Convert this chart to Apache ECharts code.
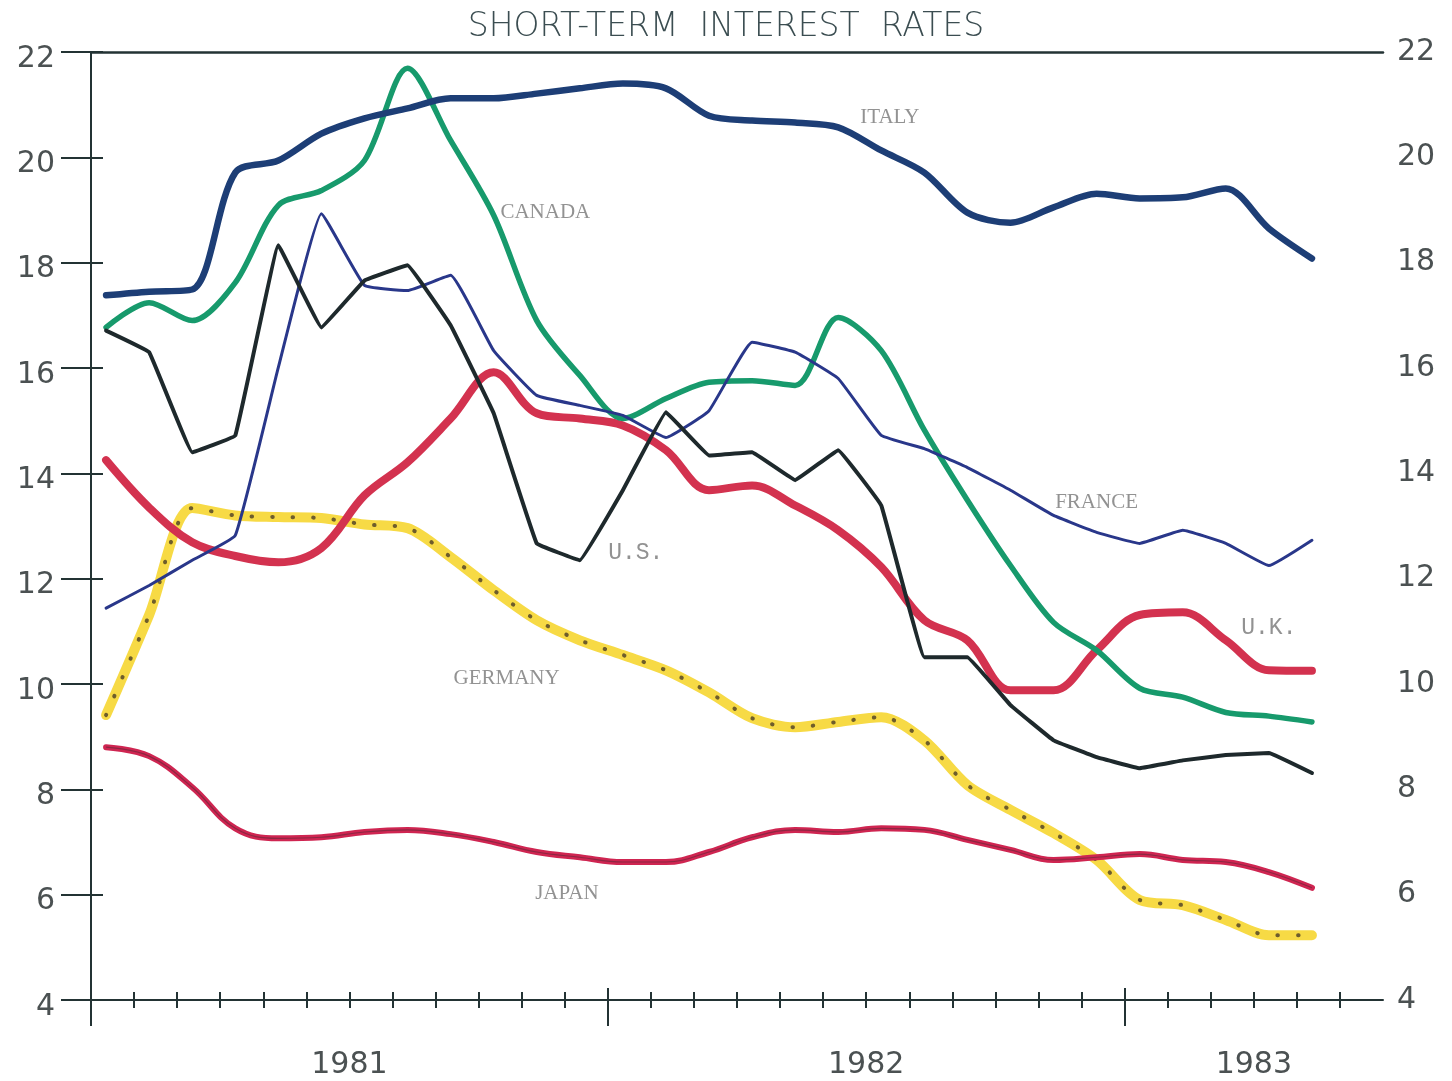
<!DOCTYPE html>
<html>
<head>
<meta charset="utf-8">
<script src="https://cdn.jsdelivr.net/npm/echarts@6/dist/echarts.min.js"></script>
<style>
html,body{margin:0;padding:0;background:#fff;}
#chart{width:1452px;height:1081px;}
</style>
</head>
<body>
<div id="chart"></div>
<script>
// Months since 1 Jan 1981; monthly observations (plotted ~ one third into each month)
const months = [0.35,1.35,2.35,3.35,4.35,5.35,6.35,7.35,8.35,9.35,10.35,11.35,12.35,13.35,14.35,15.35,16.35,17.35,18.35,19.35,20.35,21.35,22.35,23.35,24.35,25.35,26.35,27.35,28.35];

const italy   = [17.38,17.45,17.49,19.71,19.94,20.45,20.74,20.93,21.12,21.12,21.21,21.31,21.40,21.31,20.79,20.70,20.66,20.57,20.13,19.71,18.95,18.76,19.05,19.31,19.22,19.24,19.41,18.65,18.08];
const canada  = [16.77,17.24,16.90,17.62,19.09,19.37,19.94,21.69,20.32,18.90,16.90,15.86,15.04,15.42,15.73,15.76,15.67,16.96,16.33,14.82,13.49,12.25,11.17,10.64,9.92,9.75,9.46,9.39,9.28];
const france  = [11.44,11.87,12.35,12.82,16.01,18.93,17.57,17.47,17.76,16.33,15.48,15.29,15.10,14.68,15.19,16.49,16.30,15.80,14.72,14.47,14.11,13.68,13.20,12.88,12.67,12.92,12.67,12.25,12.73];
const us      = [16.71,16.30,14.40,14.72,18.33,16.77,17.66,17.95,16.81,15.14,12.67,12.35,13.68,15.16,14.34,14.40,13.87,14.44,13.39,10.51,10.51,9.60,8.93,8.61,8.40,8.55,8.65,8.69,8.31];
const uk      = [14.25,13.35,12.69,12.43,12.31,12.58,13.58,14.21,15.04,15.92,15.14,15.04,14.91,14.44,13.68,13.77,13.39,12.92,12.22,11.21,10.83,9.88,9.88,10.64,11.31,11.36,10.83,10.26,10.25];
const germany = [9.41,11.31,13.34,13.20,13.17,13.15,13.03,12.96,12.41,11.78,11.21,10.83,10.55,10.26,9.84,9.35,9.18,9.28,9.37,8.93,8.08,7.61,7.17,6.66,5.90,5.80,5.52,5.23,5.23];
const japan   = [8.80,8.63,8.04,7.26,7.07,7.09,7.19,7.23,7.15,7.00,6.81,6.71,6.62,6.62,6.81,7.09,7.23,7.19,7.26,7.23,7.04,6.85,6.66,6.71,6.77,6.66,6.62,6.43,6.13];

// Series labels (placed in data coordinates: month, rate)
const labelNames  = ['ITALY','CANADA','FRANCE','U.S.','U.K.','GERMANY','JAPAN'];
const labelMonths = [18.55,10.55,23.35,12.65,27.35,9.65,11.05];
const labelRates  = [20.76,18.95,13.45,12.48,11.07,10.10,6.03];

// Axis ticks and labels
const yearStarts      = [0,12,24];
const yearLabels      = ['1981','1982','1983'];
const yearLabelMonths = [6,18,27];
const monthTicks = [];
for (let m = 1; m < 30; m++) monthTicks.push(m);

const AX = '#233334';
const TICKFONT = {fontFamily:'DejaVu Sans', fontSize:30, color:'#4b5152'};

function pairs(vals){ return vals.map((v,i)=>[months[i], v]); }

const labelStyles = {
  'U.S.': {fontFamily:'Liberation Mono', fontSize:23},
  'U.K.': {fontFamily:'Liberation Mono', fontSize:23}
};

const chart = echarts.init(document.getElementById('chart'), null, {renderer:'canvas'});

const xBase = {type:'value', min:0, max:30, gridIndex:0, position:'bottom',
  splitLine:{show:false}, axisLabel:{show:false}, axisLine:{show:false}};

chart.setOption({
  backgroundColor:'#ffffff',
  animation:false,
  title:{
    text:'SHORT-TERM  INTEREST  RATES',
    left:'center', top:6,
    textStyle:{fontFamily:'DejaVu Sans', fontWeight:200, fontSize:33, color:'#3b4d51'}
  },
  grid:{left:91, right:69, top:52, bottom:81},
  xAxis:[
    Object.assign({}, xBase, {
      axisLine:{show:true, lineStyle:{color:AX, width:2}},
      axisTick:{show:true, inside:true, length:8, customValues:monthTicks, lineStyle:{color:AX, width:2}}
    }),
    Object.assign({}, xBase, {
      axisTick:{show:true, inside:false, length:8, customValues:monthTicks, lineStyle:{color:AX, width:2}}
    }),
    Object.assign({}, xBase, {
      axisTick:{show:true, inside:true, length:12, customValues:yearStarts, lineStyle:{color:AX, width:2}}
    }),
    Object.assign({}, xBase, {
      axisTick:{show:true, inside:false, length:26, customValues:yearStarts, lineStyle:{color:AX, width:2}},
      axisLabel:Object.assign({show:true, margin:50, customValues:yearLabelMonths,
        formatter:function(v){ const i = yearLabelMonths.indexOf(v); return i>=0 ? yearLabels[i] : ''; }}, TICKFONT)
    }),
    Object.assign({}, xBase, {
      position:'top',
      axisLine:{show:true, lineStyle:{color:AX, width:2.5}},
      axisTick:{show:false}
    })
  ],
  yAxis:[
    {type:'value', min:4, max:22, interval:2, position:'left',
     splitLine:{show:false},
     axisLine:{show:true, lineStyle:{color:AX, width:2}},
     axisTick:{show:true, inside:false, length:30, lineStyle:{color:AX, width:2}},
     axisLabel:Object.assign({margin:36, verticalAlign:'top', lineHeight:14}, TICKFONT)},
    {type:'value', min:4, max:22, interval:2, position:'left',
     splitLine:{show:false}, axisLine:{show:false}, axisLabel:{show:false},
     axisTick:{show:true, inside:true, length:12, lineStyle:{color:AX, width:2}}},
    {type:'value', min:4, max:22, interval:2, position:'right',
     splitLine:{show:false},
     axisLine:{show:true, lineStyle:{color:AX, width:2}},
     axisTick:{show:true, inside:true, length:28, lineStyle:{color:AX, width:2}},
     axisLabel:Object.assign({margin:14}, TICKFONT)},
    {type:'value', min:4, max:22, interval:2, position:'right',
     splitLine:{show:false}, axisLine:{show:false}, axisLabel:{show:false},
     axisTick:{show:true, inside:false, length:6, lineStyle:{color:AX, width:2}}}
  ],
  series:[
    {name:'Germany', type:'line', data:pairs(germany), smooth:0.3, symbol:'none',
     lineStyle:{color:'#f7da45', width:10, cap:'round', join:'round'}},
    {name:'Germany dots', type:'line', data:pairs(germany), smooth:0.3, symbol:'none',
     lineStyle:{color:'#6e5d2b', width:4, type:[0.5,20], cap:'round'}},
    {name:'Japan', type:'line', data:pairs(japan), smooth:0.4, symbol:'none',
     lineStyle:{color:'#cf2551', width:6, cap:'round', join:'round'}},
    {name:'Japan core', type:'line', data:pairs(japan), smooth:0.4, symbol:'none',
     lineStyle:{color:'#3a2a30', width:1.2, opacity:0.45}},
    {name:'U.K.', type:'line', data:pairs(uk), smooth:0.35, symbol:'none',
     lineStyle:{color:'#d3324f', width:8, cap:'round', join:'round'}},
    {name:'Canada', type:'line', data:pairs(canada), smooth:0.3, symbol:'none',
     lineStyle:{color:'#179a6c', width:5.5, cap:'round', join:'round'}},
    {name:'Italy', type:'line', data:pairs(italy), smooth:0.3, symbol:'none',
     lineStyle:{color:'#1d3e76', width:6.5, cap:'round', join:'round'}},
    {name:'France', type:'line', data:pairs(france), smooth:0.1, symbol:'none',
     lineStyle:{color:'#29378a', width:3, cap:'round', join:'round'}},
    {name:'U.S.', type:'line', data:pairs(us), smooth:0.05, symbol:'none',
     lineStyle:{color:'#1e292c', width:4, cap:'round', join:'round'}},
    {name:'labels', type:'scatter', symbolSize:0, silent:true,
     data:labelNames.map((n,i)=>({name:n, value:[labelMonths[i], labelRates[i]],
       label:Object.assign({show:true, position:'inside', formatter:'{b}',
         fontFamily:'Liberation Serif', fontSize:21, color:'#777777'}, labelStyles[n]||{})}))}
  ]
});
</script>
</body>
</html>
